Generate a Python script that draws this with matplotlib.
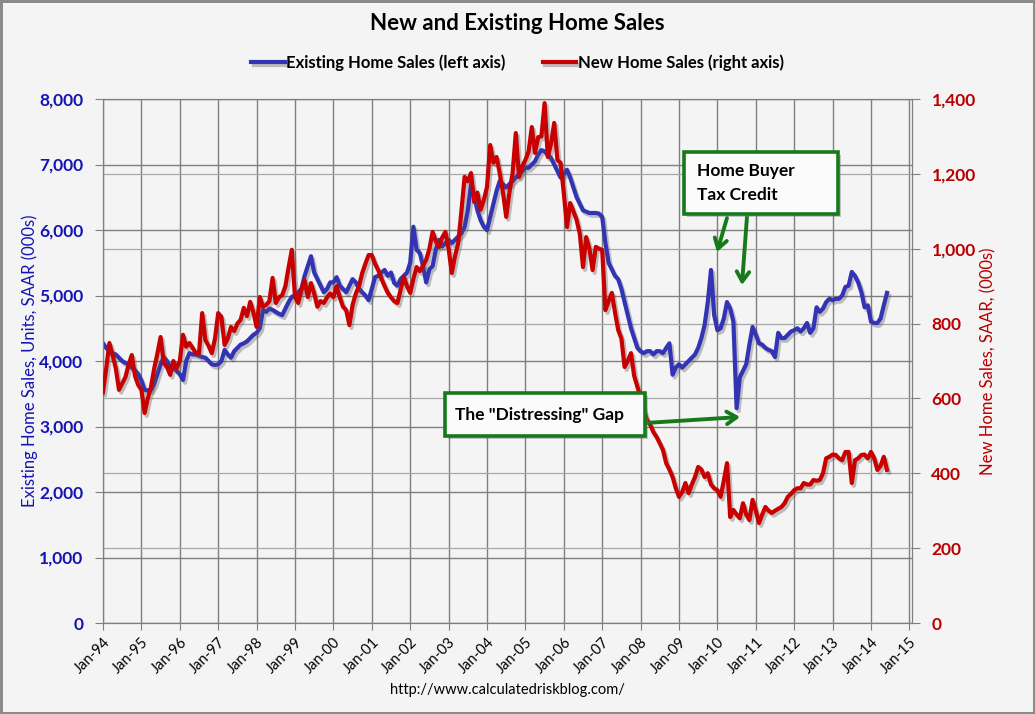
import numpy as np
import pandas as pd
import matplotlib.pyplot as plt
import matplotlib.patheffects as pe
from matplotlib.patches import Rectangle

plt.rcParams['font.family'] = ['Lato', 'DejaVu Sans']

# monthly, Jan-1994 .. Jun-2014, SAAR (000s)
existing_sales = [
    4270, 4200, 4150, 4120, 4100, 4050, 4000, 3970, 3950, 3900, 3860, 3800,
    3700, 3560, 3550, 3560, 3650, 3800, 3950, 4060, 4000, 3910, 3900, 3850,
    3800, 3710, 4000, 4120, 4100, 4100, 4080, 4060, 4050, 4000, 3950, 3940,
    3950, 4000, 4170, 4100, 4050, 4150, 4200, 4250, 4270, 4300, 4350, 4400,
    4430, 4500, 4780, 4750, 4800, 4780, 4750, 4720, 4700, 4800, 4900, 4980,
    5000, 5050, 5100, 5300, 5450, 5600, 5350, 5250, 5150, 5050, 5100, 5200,
    5200, 5280, 5150, 5100, 5050, 5150, 5250, 5200, 5100, 5050, 5000, 4930,
    5100, 5280, 5300, 5350, 5390, 5300, 5350, 5190, 5150, 5250, 5300, 5350,
    5500, 6050, 5700, 5650, 5450, 5200, 5400, 5450, 5700, 5850, 5750, 5800,
    5850, 5800, 5850, 5900, 5950, 6050, 6300, 6700, 6500, 6300, 6150, 6050,
    6000, 6200, 6400, 6600, 6750, 6700, 6650, 6700, 6750, 6800, 6850, 6900,
    6950, 6950, 7000, 7050, 7150, 7220, 7200, 7150, 7100, 7000, 6900, 6800,
    6850, 6920, 6800, 6650, 6500, 6400, 6300, 6280, 6260, 6260, 6260, 6250,
    6200, 5800, 5500, 5400, 5300, 5250, 5100, 4900, 4700, 4500, 4350, 4200,
    4150, 4120, 4150, 4150, 4100, 4150, 4150, 4120, 4200, 4270, 3790, 3900,
    3950, 3900, 3950, 4000, 4050, 4100, 4200, 4350, 4550, 4900, 5390, 4700,
    4470, 4500, 4650, 4900, 4800, 4600, 3280, 3750, 3850, 3950, 4250, 4520,
    4400, 4270, 4250, 4200, 4170, 4150, 4060, 4430, 4350, 4350, 4400, 4450,
    4470, 4500, 4450, 4500, 4580, 4430, 4500, 4820, 4750, 4800, 4900, 4950,
    4930, 4950, 4950, 5000, 5130, 5150, 5360, 5300, 5200, 5050, 4820, 4850,
    4600, 4580, 4580, 4650, 4850, 5040,
]

new_sales = [
    617, 680, 748, 716, 680, 623, 640, 657, 690, 716, 660, 636,
    623, 561, 600, 631, 680, 720, 764, 695, 684, 663, 700, 680,
    700, 770, 738, 748, 735, 721, 721, 828, 756, 740, 721, 760,
    828, 818, 743, 760, 791, 780, 800, 810, 842, 820, 858, 830,
    791, 871, 845, 850, 860, 922, 855, 870, 876, 900, 950, 997,
    871, 855, 890, 916, 871, 908, 880, 845, 860, 855, 870, 880,
    871, 900, 870, 845, 836, 796, 850, 880, 900, 935, 960, 983,
    983, 960, 943, 920, 900, 882, 870, 860, 855, 890, 925, 900,
    882, 920, 951, 940, 955, 970, 1000, 1045, 1020, 1005, 1030, 1045,
    1000, 935, 980, 1015, 1100, 1192, 1180, 1202, 1125, 1150, 1104, 1130,
    1165, 1277, 1230, 1245, 1200, 1150, 1085, 1150, 1202, 1309, 1192, 1220,
    1237, 1260, 1325, 1256, 1298, 1300, 1389, 1245, 1280, 1336, 1237, 1229,
    1149, 1058, 1122, 1100, 1077, 1040, 951, 1031, 1000, 943, 1005, 1000,
    997, 836, 860, 882, 830, 783, 760, 684, 700, 721, 660, 631,
    604, 570, 542, 530, 510, 497, 480, 462, 427, 410, 390, 360,
    337, 350, 374, 347, 370, 390, 417, 410, 390, 400, 370, 360,
    355, 337, 380, 427, 283, 302, 290, 280, 320, 290, 275, 329,
    300, 267, 290, 310, 300, 294, 300, 305, 310, 320, 337, 345,
    355, 360, 360, 374, 370, 370, 382, 380, 382, 400, 440, 444,
    450, 449, 440, 435, 457, 457, 374, 435, 440, 449, 450, 440,
    457, 440, 409, 420, 444, 409,
]

left_ticks = [0, 1000, 2000, 3000, 4000, 5000, 6000, 7000, 8000]
right_ticks = [0, 200, 400, 600, 800, 1000, 1200, 1400]
years = list(range(1994, 2016))
year_labels = ['Jan-%02d' % (y % 100) for y in years]

blue = '#3333b5'
red = '#c80000'
green = '#16791a'
grid_col = '#7f7f7f'
bg = '#f4f4f4'

dates = pd.date_range('1994-01-01', periods=len(existing_sales), freq='MS')
x = dates.year + (dates.month - 1) / 12.0

fig = plt.figure(figsize=(10.35, 7.14), dpi=100, facecolor=bg)
fig.patch.set_edgecolor('#8a8a8a')
fig.patch.set_linewidth(2.5)
ax = fig.add_axes([103 / 1035, 1 - 623 / 714, 809 / 1035, 524 / 714])
ax.set_facecolor(bg)
ax2 = ax.twinx()

ax.set_xlim(1994, 1994 + 809 / 38.4)
ax.set_ylim(0, 8000)
ax2.set_ylim(0, 1400)

# grid: vertical per year, horizontal for both axes
for yr in years:
    ax.axvline(yr, color=grid_col, lw=1.0, zorder=0)
for v in left_ticks:
    ax.axhline(v, color=grid_col, lw=1.0, zorder=0)
for v in right_ticks:
    ax.axhline(v * 8000 / 1400, color='#a8a8a8', lw=0.9, zorder=0)

shadow = [pe.SimpleLineShadow(offset=(1.5, -2), shadow_color='#555555', alpha=0.35),
          pe.Normal()]
l1, = ax.plot(x, existing_sales, color=blue, lw=3.0, solid_joinstyle='round',
              path_effects=shadow, zorder=3, label='Existing Home Sales (left axis)')
l2, = ax2.plot(x, new_sales, color=red, lw=3.0, solid_joinstyle='round',
               path_effects=shadow, zorder=3, label='New Home Sales (right axis)')

ax.set_yticks(left_ticks)
ax.set_yticklabels(['{:,}'.format(v) for v in left_ticks])
ax2.set_yticks(right_ticks)
ax2.set_yticklabels(['{:,}'.format(v) for v in right_ticks])
ax.set_xticks(years)
ax.set_xticklabels(year_labels, rotation=45, ha='right', rotation_mode='anchor',
                   fontsize=10.5)

ax.tick_params(axis='y', colors=grid_col, labelcolor='#1414b4', labelsize=12.5,
               length=6, pad=8)
ax2.tick_params(axis='y', colors=grid_col, labelcolor='#b80000', labelsize=12.5,
                length=6, pad=8)
ax.tick_params(axis='x', colors=grid_col, labelcolor='black', length=5, pad=4)
for lab in ax.get_yticklabels() + ax2.get_yticklabels():
    lab.set_fontweight('bold')

for a in (ax, ax2):
    for s in a.spines.values():
        s.set_color(grid_col)

ax.set_ylabel('Existing Home Sales, Units, SAAR (000s)', color='#1414b4',
              fontsize=12, labelpad=1)
ax2.set_ylabel('New Home Sales, SAAR, (000s)', color='#b80000', fontsize=12,
               labelpad=3)

fig.text(0.5, 1 - 24 / 714, 'New and Existing Home Sales', ha='center',
         va='center', fontsize=16, fontweight='bold')
fig.legend(handles=[l1, l2], loc='center', bbox_to_anchor=(0.5, 1 - 63 / 714),
           ncol=2, frameon=False, handlelength=2.0,
           handletextpad=0.1, columnspacing=2.2,
           prop={'weight': 'bold', 'size': 12})
fig.text(0.49, 1 - 690 / 714, 'http://www.calculatedriskblog.com/', ha='center',
         va='center', fontsize=10.5)

# annotation boxes
box_shadow = [pe.SimplePatchShadow(offset=(2, -2), shadow_rgbFace='#777777', alpha=0.4),
              pe.Normal()]
for (x0, y0, w, h) in [((684 - 103) / 809, (623 - 214) / 524, 154 / 809, 62 / 524),
                       ((445 - 103) / 809, (623 - 436) / 524, 200 / 809, 43 / 524)]:
    r = Rectangle((x0, y0), w, h, transform=ax2.transAxes, facecolor='#fbfbfb',
                  edgecolor=green, lw=2.6, zorder=6, path_effects=box_shadow)
    ax2.add_patch(r)

ax2.text((697 - 103) / 809, (623 - 183) / 524, 'Home Buyer\nTax Credit',
         transform=ax2.transAxes, ha='left', va='center', fontsize=12.5,
         fontweight='bold', linespacing=1.55, zorder=7)
ax2.text((455 - 103) / 809, (623 - 415) / 524, 'The "Distressing" Gap',
         transform=ax2.transAxes, ha='left', va='center', fontsize=12.5,
         fontweight='bold', zorder=7)

arrow = dict(arrowstyle='->,head_length=0.7,head_width=0.45', color=green, lw=2.8,
             shrinkA=0, shrinkB=0)
arrows = [((2010.25, 6183), (2009.99, 5664)),
          ((2010.77, 6198), (2010.64, 5160)),
          ((2008.11, 3053), (2010.59, 3145))]
for start, end in arrows:
    ax2.annotate('', xy=end, xytext=start, xycoords=ax.transData,
                 textcoords=ax.transData, arrowprops=arrow, zorder=5)

fig.savefig('out.png', dpi=100, facecolor=fig.get_facecolor(),
            edgecolor=fig.get_edgecolor())
